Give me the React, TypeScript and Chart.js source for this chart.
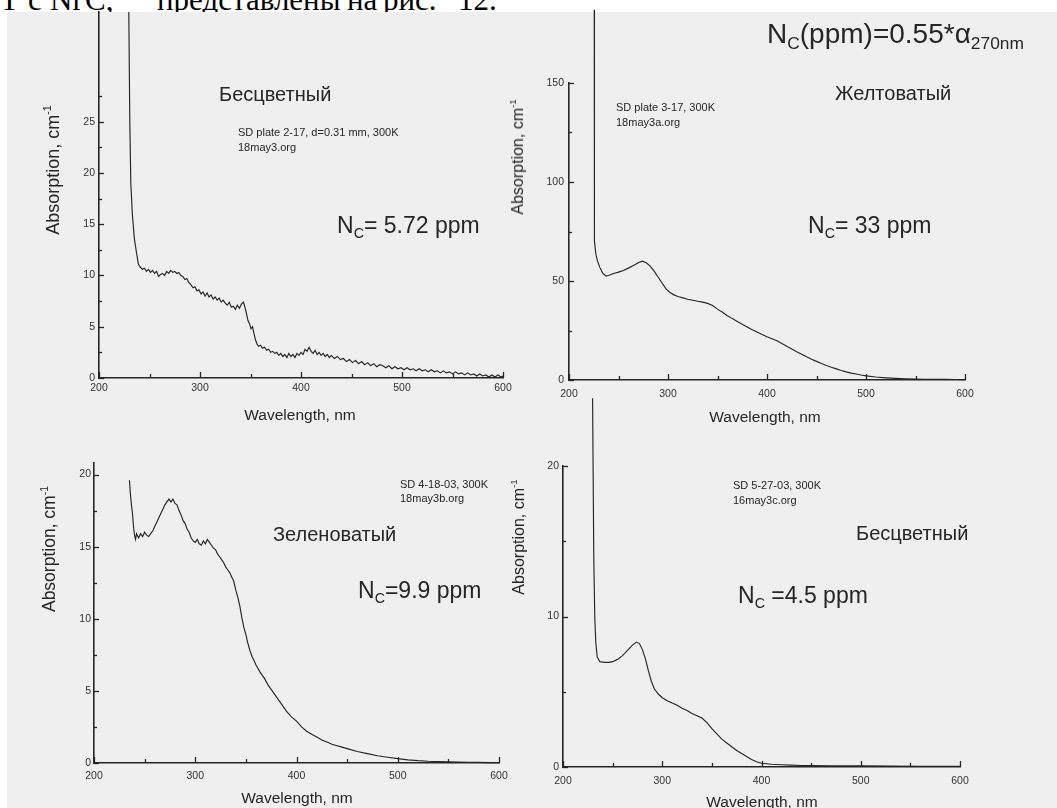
import React, { useEffect, useRef } from "react";
import { Chart, registerables } from "chart.js";

Chart.register(...registerables);

// ---------------- data ----------------
const X_MAJOR = [200, 300, 400, 500, 600];
const X_MINOR = [250, 350, 450, 550];

const P1_Y_MAJOR = [0, 5, 10, 15, 20, 25];
const P1_Y_MINOR = [2.5, 7.5, 12.5, 17.5, 22.5, 27.5];
const P2_Y_MAJOR = [0, 50, 100, 150];
const P2_Y_MINOR = [25, 75, 125];
const P3_Y_MAJOR = [0, 5, 10, 15, 20];
const P3_Y_MINOR = [2.5, 7.5, 12.5, 17.5];
const P4_Y_MAJOR = [0, 10, 20];
const P4_Y_MINOR = [5, 15];

// Panel 1: SD plate 2-17 (Бесцветный)
const P1_WAVELENGTH = [
  229.5, 230.5, 231.5, 233, 235, 237, 239, 241, 243, 245,
  247, 249, 251, 253, 255, 257, 259, 261, 263, 265,
  267, 269, 271, 273, 275, 277, 279, 281, 283, 285,
  287, 289, 291, 293, 295, 297, 299, 301, 303, 305,
  307, 309, 311, 313, 315, 317, 319, 321, 323, 325,
  327, 329, 331, 333, 335, 337, 339, 341, 343, 344.5,
  346, 347.5, 349, 350.5, 352, 353.5, 355, 356.5, 358, 360,
  362, 364, 366, 368, 370, 372, 374, 376, 378, 380,
  382, 384, 386, 388, 390, 392, 394, 396, 398, 400,
  402, 404, 406, 408, 410, 412, 414, 416, 418, 420,
  422, 424, 426, 428, 430, 433, 436, 439, 442, 445,
  448, 451, 454, 457, 460, 463, 466, 469, 472, 475,
  478, 481, 484, 487, 490, 493, 496, 499, 502, 505,
  508, 511, 514, 517, 520, 523, 526, 529, 532, 535,
  538, 541, 544, 547, 550, 553, 556, 559, 562, 565,
  568, 571, 574, 577, 580, 583, 586, 589, 592, 595,
  598, 600,
];
const P1_ABSORPTION = [
  35.7, 25, 19, 16, 13.6, 12.3, 11.1, 10.8, 10.6, 10.7,
  10.4, 10.6, 10.3, 10.5, 10.2, 10.4, 9.9, 10.1, 10.2, 10.0,
  10.4, 10.2, 10.5, 10.3, 10.4, 10.2, 10.3, 10.0, 9.9, 9.6,
  9.7, 9.3, 9.1, 8.8, 8.9, 8.5, 8.6, 8.2, 8.4, 8.0,
  8.3, 7.9, 8.1, 7.7, 7.9, 7.6, 7.8, 7.4, 7.6, 7.3,
  7.1, 7.4, 6.9, 7.0, 6.7, 7.1, 6.8, 7.2, 7.4, 6.9,
  6.3, 5.6, 5.3, 4.8, 5.0, 4.3, 3.7, 3.3, 3.1, 3.2,
  2.9, 3.0, 2.7, 2.8, 2.5, 2.6, 2.4, 2.5, 2.2, 2.4,
  2.1, 2.3, 2.0, 2.4, 2.1, 2.3, 2.0, 2.4, 2.2, 2.5,
  2.3, 2.8, 2.6, 3.0, 2.6, 2.4, 2.7, 2.3, 2.5, 2.2,
  2.4, 2.1, 2.3, 2.0, 2.2, 1.9, 2.1, 1.8, 1.9, 1.6,
  1.8, 1.5, 1.7, 1.4, 1.6, 1.3, 1.5, 1.2, 1.4, 1.1,
  1.3, 1.2, 1.0, 1.2, 0.9, 1.1, 0.9, 1.0, 0.8, 1.0,
  0.8, 0.9, 0.7, 0.9, 0.7, 0.8, 0.6, 0.8, 0.6, 0.7,
  0.5, 0.7, 0.5, 0.6, 0.4, 0.6, 0.4, 0.5, 0.3, 0.5,
  0.3, 0.4, 0.2, 0.4, 0.2, 0.3, 0.1, 0.3, 0.1, 0.3,
  0.1, 0.2,
];

// Panel 2: SD plate 3-17 (Желтоватый)
const P2_WAVELENGTH = [
  225.5, 225.6, 225.8, 227, 228.5, 231, 234, 237.5, 240, 245,
  250, 255, 260, 265, 270, 274, 278, 282, 286, 290,
  294, 298, 302, 306, 310, 315, 320, 325, 330, 335,
  340, 345, 350, 355, 360, 365, 370, 375, 380, 385,
  390, 395, 400, 405, 410, 415, 420, 425, 430, 435,
  440, 445, 450, 455, 460, 465, 470, 475, 480, 485,
  490, 495, 500, 510, 520, 530, 540, 550, 560, 570,
  580, 590, 600,
];
const P2_ABSORPTION = [
  187, 100, 70, 64, 60.5, 57, 54, 52.5, 52.8, 53.8,
  54.5, 55.3, 56.5, 57.8, 59.2, 60, 59.2, 57.5, 55, 52,
  49, 46, 44.2, 43, 42.2, 41.5, 40.8, 40.3, 39.8, 39.3,
  38.7, 37.6, 35.8, 34.2, 32.5, 31, 29.6, 28.2, 26.8, 25.4,
  24.2, 23, 21.8, 20.8, 19.8, 18.4, 17, 15.7, 14.3, 13,
  11.7, 10.5, 9.4, 8.3, 7.3, 6.4, 5.6, 4.8, 4.1, 3.5,
  3, 2.5, 2.1, 1.5, 1.1, 0.8, 0.6, 0.45, 0.35, 0.3,
  0.3, 0.25, 0.2,
];

// Panel 3: SD 4-18-03 (Зеленоватый)
const P3_WAVELENGTH = [
  235, 236, 237, 238, 239, 240, 241, 242, 244, 246,
  248, 250, 252, 254, 256, 258, 260, 262, 264, 266,
  268, 270, 272, 274, 276, 278, 280, 282, 284, 286,
  288, 290, 292, 294, 296, 298, 300, 302, 304, 306,
  308, 310, 312, 314, 316, 318, 320, 322, 324, 326,
  328, 330, 332, 334, 336, 338, 340, 342, 344, 346,
  348, 350, 352, 354, 356, 358, 360, 364, 368, 372,
  376, 380, 385, 390, 395, 400, 405, 410, 415, 420,
  425, 430, 435, 440, 445, 450, 460, 470, 480, 490,
  500, 510, 520, 530, 540, 550, 560, 570, 580, 590, 600,
];
const P3_ABSORPTION = [
  19.6, 18.6, 17.9, 17.3, 16.4, 15.8, 15.5, 15.9, 15.6, 15.9,
  15.7, 16.0, 15.8, 15.7, 15.9, 16.1, 16.4, 16.7, 17.0, 17.3,
  17.6, 17.9, 18.1, 18.3, 18.1, 18.3, 18.0, 17.9, 17.5, 17.2,
  16.8, 16.6, 16.2, 16.0, 15.6, 15.4, 15.3, 15.5, 15.2, 15.1,
  15.4, 15.2, 15.5, 15.3, 15.1, 14.9, 14.8, 14.5, 14.3, 14.1,
  13.9, 13.6, 13.4, 13.2, 12.9, 12.6, 12.0, 11.5, 10.9, 10.1,
  9.4, 8.9, 8.3, 7.8, 7.4, 7.1, 6.8, 6.3, 5.9, 5.4,
  5.0, 4.6, 4.1, 3.6, 3.2, 2.9, 2.5, 2.2, 2.0, 1.8,
  1.6, 1.45, 1.3, 1.2, 1.1, 1.0, 0.8, 0.65, 0.5, 0.4,
  0.3, 0.22, 0.16, 0.12, 0.1, 0.08, 0.06, 0.05, 0.04, 0.03, 0.02,
];

// Panel 4: SD 5-27-03 (Бесцветный)
const P4_WAVELENGTH = [
  229.8, 231, 232, 233, 234.5, 237, 242, 246, 250,
  255, 260, 265, 270, 274, 277, 280, 283, 286, 289,
  292, 296, 300, 305, 310, 315, 320, 325, 330, 335,
  340, 345, 350, 355, 360, 365, 370, 375, 380, 385,
  390, 395, 400, 410, 420, 430, 440, 450, 470, 500,
  530, 560, 600,
];
const P4_ABSORPTION = [
  24.5, 14, 10, 8.3, 7.3, 7.0, 6.95, 6.95, 7.0,
  7.15, 7.4, 7.75, 8.1, 8.3, 8.2, 7.8, 7.2, 6.4, 5.7,
  5.2, 4.85, 4.6, 4.4, 4.25, 4.1, 3.9, 3.75, 3.55, 3.4,
  3.25, 2.95, 2.55, 2.2, 1.85, 1.6, 1.35, 1.1, 0.9, 0.7,
  0.5, 0.35, 0.25, 0.18, 0.15, 0.12, 0.1, 0.1, 0.08, 0.08,
  0.06, 0.05, 0.05,
];

// ---------------- layout / style ----------------
const FONT = "'Liberation Sans', Arial, Helvetica, sans-serif";
const SERIF = "'Liberation Serif', 'Times New Roman', serif";
const INK = "#262626";
const BG = "#efefef";

type PanelCfg = {
  wl: number[];
  ab: number[];
  yMax: number;
  yMajor: number[];
  yMinor: number[];
  area: [number, number, number, number]; // left, top, right, bottom of plot area
  canvasTop: number;
  xLabelPad: number;
  yLabelPad: number;
};

const PANELS: PanelCfg[] = [
  { wl: P1_WAVELENGTH, ab: P1_ABSORPTION, yMax: 35.7, yMajor: P1_Y_MAJOR, yMinor: P1_Y_MINOR, area: [99, 12, 503, 378], canvasTop: 0, xLabelPad: 4, yLabelPad: 4 },
  { wl: P2_WAVELENGTH, ab: P2_ABSORPTION, yMax: 150, yMajor: P2_Y_MAJOR, yMinor: P2_Y_MINOR, area: [569, 83, 965, 380], canvasTop: 5, xLabelPad: 8, yLabelPad: 5 },
  { wl: P3_WAVELENGTH, ab: P3_ABSORPTION, yMax: 20.8, yMajor: P3_Y_MAJOR, yMinor: P3_Y_MINOR, area: [94, 463, 499, 763], canvasTop: 440, xLabelPad: 7, yLabelPad: 3 },
  { wl: P4_WAVELENGTH, ab: P4_ABSORPTION, yMax: 20, yMajor: P4_Y_MAJOR, yMinor: P4_Y_MINOR, area: [563, 466, 960, 767], canvasTop: 390, xLabelPad: 8, yLabelPad: 4 },
];

const inwardTicks = {
  id: "inwardTicks",
  afterDatasetsDraw(chart: any, _args: any, opts: any) {
    const { ctx, chartArea: a, scales } = chart;
    const xs = scales.x;
    const ys = scales.y;
    ctx.save();
    ctx.strokeStyle = INK;
    ctx.lineWidth = 1.3;
    const seg = (x1: number, y1: number, x2: number, y2: number) => {
      ctx.beginPath();
      ctx.moveTo(x1, y1);
      ctx.lineTo(x2, y2);
      ctx.stroke();
    };
    opts.xMajor.forEach((v: number) => {
      const px = Math.round(xs.getPixelForValue(v)) + 0.5;
      seg(px, a.bottom, px, a.bottom - 6);
    });
    opts.xMinor.forEach((v: number) => {
      const px = Math.round(xs.getPixelForValue(v)) + 0.5;
      seg(px, a.bottom, px, a.bottom - 4);
    });
    opts.yMajor.forEach((v: number) => {
      const py = Math.round(ys.getPixelForValue(v)) + 0.5;
      seg(a.left, py, a.left + 5, py);
    });
    opts.yMinor.forEach((v: number) => {
      const py = Math.round(ys.getPixelForValue(v)) + 0.5;
      seg(a.left, py, a.left + 3, py);
    });
    ctx.restore();
  },
};

const Y_W = 60;
const X_H = 30;
const PAD_R = 20;

function Panel({ cfg }: { cfg: PanelCfg }) {
  const ref = useRef<HTMLCanvasElement>(null);
  const [l, t, r, b] = cfg.area;
  const cLeft = l - Y_W;
  const cTop = cfg.canvasTop;
  const cW = r - l + Y_W + PAD_R;
  const cH = b - cTop + X_H;

  useEffect(() => {
    if (!ref.current) return;
    const chart = new Chart(ref.current, {
      type: "line",
      data: {
        datasets: [
          {
            data: cfg.wl.map((x, i) => ({ x, y: cfg.ab[i] })),
            borderColor: "#262626",
            borderWidth: 1.15,
            pointRadius: 0,
            tension: 0,
            fill: false,
            clip: false as any,
          },
        ],
      },
      options: {
        animation: false,
        responsive: false,
        devicePixelRatio: 1,
        events: [],
        layout: { padding: { left: 0, top: t - cTop, right: PAD_R, bottom: 0 } },
        scales: {
          x: {
            type: "linear",
            min: 200,
            max: 600,
            bounds: "data",
            afterBuildTicks: (s: any) => {
              s.ticks = X_MAJOR.map((v) => ({ value: v }));
            },
            afterFit: (s: any) => {
              s.height = X_H;
            },
            grid: { display: false, drawTicks: false },
            border: { display: true, color: INK, width: 1.6 },
            ticks: {
              padding: cfg.xLabelPad,
              color: "#333",
              font: { family: FONT, size: 10.5 },
              maxRotation: 0,
              autoSkip: false,
              callback: (v: any) => String(v),
            },
          },
          y: {
            type: "linear",
            min: 0,
            max: cfg.yMax,
            bounds: "data",
            afterBuildTicks: (s: any) => {
              s.ticks = cfg.yMajor.map((v) => ({ value: v }));
            },
            afterFit: (s: any) => {
              s.width = Y_W;
            },
            grid: { display: false, drawTicks: false },
            border: { display: true, color: INK, width: 1.6 },
            ticks: {
              padding: cfg.yLabelPad,
              color: "#333",
              font: { family: FONT, size: 10.5 },
              autoSkip: false,
              callback: (v: any) => String(v),
            },
          },
        },
        plugins: {
          legend: { display: false },
          tooltip: { enabled: false },
          inwardTicks: { xMajor: X_MAJOR, xMinor: X_MINOR, yMajor: cfg.yMajor, yMinor: cfg.yMinor },
        } as any,
      },
      plugins: [inwardTicks],
    });
    return () => chart.destroy();
  }, []);

  return (
    <canvas
      ref={ref}
      width={cW}
      height={cH}
      style={{ position: "absolute", left: cLeft, top: cTop, width: cW, height: cH }}
    />
  );
}

// text placed by left edge and baseline (line-height 1 => baseline at 0.8305em)
function Txt({ x, base, size, children, color = INK }: any) {
  return (
    <div
      style={{
        position: "absolute",
        left: x,
        top: base - 0.8305 * size,
        fontFamily: FONT,
        fontSize: size,
        lineHeight: 1,
        color,
        whiteSpace: "nowrap",
      }}
    >
      {children}
    </div>
  );
}

function Sub({ children }: any) {
  return <span style={{ fontSize: "0.62em", position: "relative", top: "0.38em" }}>{children}</span>;
}

function Nc() {
  return (
    <>
      N<Sub>C</Sub>
    </>
  );
}

function XTitle({ cx, cy }: { cx: number; cy: number }) {
  return (
    <div
      style={{
        position: "absolute",
        left: cx,
        top: cy,
        transform: "translate(-50%, -50%)",
        fontFamily: FONT,
        fontSize: 15.5,
        lineHeight: 1,
        color: INK,
        whiteSpace: "nowrap",
      }}
    >
      Wavelength, nm
    </div>
  );
}

function YTitle({ cx, cy, size }: { cx: number; cy: number; size: number }) {
  return (
    <div
      style={{
        position: "absolute",
        left: cx,
        top: cy,
        transform: "translate(-50%, -50%) rotate(-90deg)",
        fontFamily: FONT,
        fontSize: size,
        lineHeight: 1,
        color: INK,
        whiteSpace: "nowrap",
      }}
    >
      Absorption, cm<span style={{ fontSize: "0.6em", position: "relative", top: "-0.7em" }}>-1</span>
    </div>
  );
}

// words of the clipped sentence above the figure (justified line)
const TOP_WORDS: [string, number][] = [
  ["Т", 0],
  ["с", 28],
  ["NгС,", 50],
  ["представлены", 157],
  ["на", 347],
  ["рис.", 383],
  ["12.", 458],
];

export default function App() {
  return (
    <div style={{ position: "absolute", left: 0, top: 0, width: 1057, height: 808, overflow: "hidden", background: "#fff" }}>
      {TOP_WORDS.map(([w, x], i) => (
        <div
          key={i}
          style={{
            position: "absolute",
            left: x,
            top: -16,
            fontFamily: SERIF,
            fontSize: 31,
            lineHeight: 1,
            color: "#000",
            whiteSpace: "nowrap",
          }}
        >
          {w}
        </div>
      ))}
      <div style={{ position: "absolute", left: 7, top: 12, width: 1050, height: 796, background: BG }} />

      {PANELS.map((p, i) => (
        <Panel key={i} cfg={p} />
      ))}

      {/* panel 1 */}
      <Txt x={219} base={101} size={20}>Бесцветный</Txt>
      <Txt x={238} base={136} size={11}>SD plate 2-17, d=0.31 mm, 300K</Txt>
      <Txt x={238} base={151} size={11}>18may3.org</Txt>
      <Txt x={337} base={233} size={23}><Nc />= 5.72 ppm</Txt>
      <YTitle cx={53} cy={170} size={18} />
      <XTitle cx={300} cy={415} />

      {/* panel 2 */}
      <Txt x={767} base={43} size={28}>
        <Nc />(ppm)=0.55*α<Sub>270nm</Sub>
      </Txt>
      <Txt x={835} base={100} size={20}>Желтоватый</Txt>
      <Txt x={616} base={111} size={11}>SD plate 3-17, 300K</Txt>
      <Txt x={616} base={126} size={11}>18may3a.org</Txt>
      <Txt x={808} base={233} size={23}><Nc />= 33 ppm</Txt>
      <YTitle cx={518} cy={157} size={16} />
      <XTitle cx={765} cy={417} />

      {/* panel 3 */}
      <Txt x={400} base={488} size={11}>SD 4-18-03, 300K</Txt>
      <Txt x={400} base={502} size={11}>18may3b.org</Txt>
      <Txt x={273} base={541} size={20}>Зеленоватый</Txt>
      <Txt x={358} base={598} size={23}><Nc />=9.9 ppm</Txt>
      <YTitle cx={50} cy={549} size={17.5} />
      <XTitle cx={297} cy={798} />

      {/* panel 4 */}
      <Txt x={733} base={489} size={11}>SD 5-27-03, 300K</Txt>
      <Txt x={733} base={504} size={11}>16may3c.org</Txt>
      <Txt x={856} base={540} size={20}>Бесцветный</Txt>
      <Txt x={738} base={603} size={23}><Nc /> =4.5 ppm</Txt>
      <YTitle cx={519} cy={537} size={16} />
      <XTitle cx={762} cy={802} />
    </div>
  );
}
